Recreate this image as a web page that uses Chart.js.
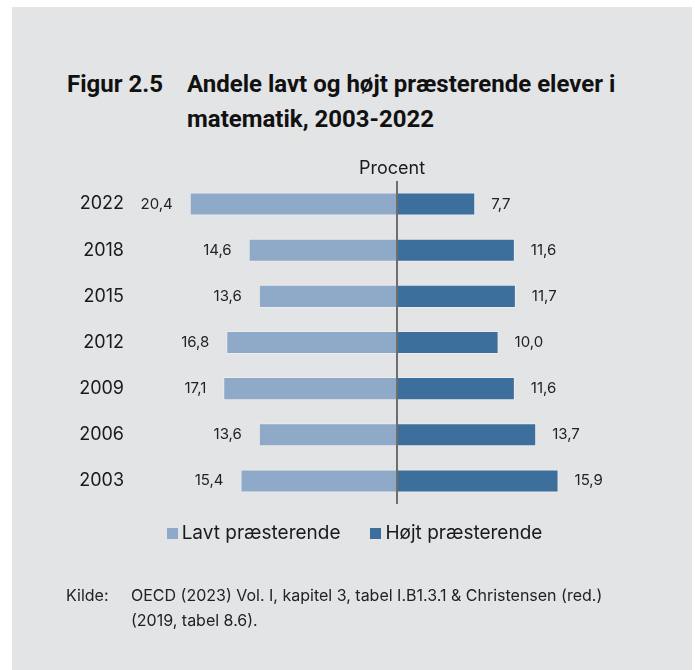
<!DOCTYPE html>
<html lang="da">
<head>
<meta charset="utf-8">
<script src="https://cdn.jsdelivr.net/npm/chart.js@4.4.1/dist/chart.umd.min.js"></script>
<style>
  body { margin: 0; width: 695px; height: 670px; background: #fff; position: relative; overflow: hidden; font-family: Inter, sans-serif; color: #1a1a1a; }
  #panel { position: absolute; left: 12px; top: 7px; width: 680px; height: 663px; background: #e3e4e6; }
  #chart { position: absolute; left: 0; top: 0; }
  .title { position: absolute; font-family: Roboto, sans-serif; font-weight: bold; font-size: 24px; line-height: 35px; color: #111; }
  #legend { position: absolute; left: 0; width: 709px; top: 521px; text-align: center; font-size: 19px; }
  #legend span.item { display: inline-block; margin: 0 15px; }
  #legend i { display: inline-block; width: 11px; height: 11px; margin-right: 4px; vertical-align: 0px; }
  .kilde { position: absolute; font-size: 16px; line-height: 25px; color: #222; }
</style>
</head>
<body>
<div id="panel"></div>
<div class="title" style="left:67px; top:67px;">Figur 2.5</div>
<div class="title" style="left:187px; top:67px;">Andele lavt og højt præsterende elever i<br>matematik, 2003-2022</div>
<canvas id="chart" width="695" height="670"></canvas>
<div id="legend"></div>
<div class="kilde" style="left:66px; top:583px;">Kilde:</div>
<div class="kilde" style="left:131px; top:583px;">OECD (2023) Vol. I, kapitel 3, tabel I.B1.3.1 &amp; Christensen (red.)<br>(2019, tabel 8.6).</div>
<script>
// Data
const aar = ['2022', '2018', '2015', '2012', '2009', '2006', '2003'];
const lavt = [20.4, 14.6, 13.6, 16.8, 17.1, 13.6, 15.4];   // Lavt præsterende
const hojt = [7.7, 11.6, 11.7, 10.0, 11.6, 13.7, 15.9];    // Højt præsterende
const serieNavne = ['Lavt præsterende', 'Højt præsterende'];
const farver = ['#8fa9c8', '#3d6f9d'];

const fmt = v => v.toFixed(1).replace('.', ',');

// Tegner nul-linjen, værdierne og "Procent"
const etiketter = {
    id: 'etiketter',
    afterDatasetsDraw(chart) {
        const { ctx, chartArea, scales } = chart;
        const x0 = scales.x.getPixelForValue(0);
        ctx.save();
        ctx.font = '15px Inter';
        ctx.fillStyle = '#222';
        ctx.textBaseline = 'middle';
        chart.getDatasetMeta(0).data.forEach((bar, i) => {
            ctx.textAlign = 'right';
            ctx.fillText(fmt(lavt[i]), bar.x - 17, bar.y);
        });
        chart.getDatasetMeta(1).data.forEach((bar, i) => {
            ctx.textAlign = 'left';
            ctx.fillText(fmt(hojt[i]), bar.x + 16, bar.y);
        });
        // nul-linje
        ctx.strokeStyle = '#6e6e6e';
        ctx.lineWidth = 2;
        ctx.beginPath();
        ctx.moveTo(x0, chartArea.top);
        ctx.lineTo(x0, chartArea.bottom);
        ctx.stroke();
        // akse-titel
        ctx.font = '18px Inter';
        ctx.fillStyle = '#1a1a1a';
        ctx.textAlign = 'center';
        ctx.textBaseline = 'alphabetic';
        ctx.fillText('Procent', x0 - 5, chartArea.top - 7);
        ctx.restore();
    }
};

const ctx = document.getElementById('chart').getContext('2d');
new Chart(ctx, {
    type: 'bar',
    data: {
        labels: aar,
        datasets: [{
            label: serieNavne[0],
            data: lavt.map(v => -v), // venstre side
            backgroundColor: farver[0],
            borderColor: 'rgba(255,255,255,0.3)',
            borderWidth: 1
        }, {
            label: serieNavne[1],
            data: hojt,
            backgroundColor: farver[1],
            borderColor: 'rgba(255,255,255,0.3)',
            borderWidth: 1
        }]
    },
    options: {
        indexAxis: 'y',
        responsive: false,
        animation: false,
        events: [],
        layout: { padding: { left: 0, top: 181, right: 44, bottom: 166 } },
        categoryPercentage: 1,
        barPercentage: 0.5,
        scales: {
            x: { stacked: true, min: -25, max: 25, display: false },
            y: {
                stacked: true,
                grid: { display: false },
                border: { display: false },
                ticks: { font: { family: 'Inter', size: 18 }, color: '#1a1a1a', padding: 11 },
                afterFit: s => { s.width = 143; }
            }
        },
        plugins: {
            legend: { display: false },
            tooltip: { enabled: false }
        }
    },
    plugins: [etiketter]
});

// Forklaring
document.getElementById('legend').innerHTML = serieNavne.map((n, i) =>
    `<span class="item"><i style="background:${farver[i]}"></i>${n}</span>`).join('');
</script>
</body>
</html>
